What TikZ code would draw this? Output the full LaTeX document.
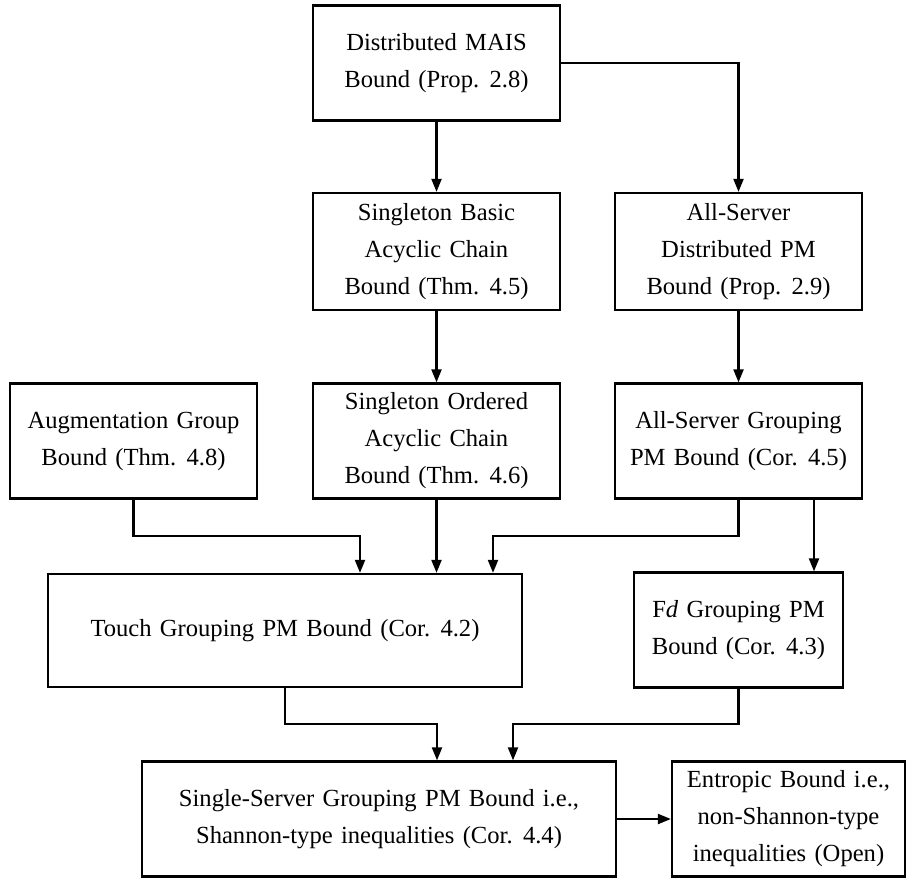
\documentclass[tikz,border=0pt]{standalone}
\usepackage{fontspec}
\setmainfont{Liberation Serif}[WordSpace={1.35}]
\usetikzlibrary{arrows.meta}

\begin{document}
\begin{tikzpicture}[
  x=0.5pt, y=-0.5pt,
  bound/.style={draw, line width=1.15pt, align=center, inner sep=0pt,
    font=\fontsize{12.3pt}{18.5pt}\selectfont,
    minimum width=123.5pt, minimum height=57.5pt},
  arr/.style={line width=1.05pt, -{Triangle[length=6.5pt,width=5pt]}},
]
\useasboundingbox (0,0) rectangle (908,878);

% row 1
\node[bound] (b1) at (436.5,63) {Distributed MAIS\\Bound (Prop. 2.8)};
% row 2
\node[bound, minimum height=58.5pt] (b2) at (436.5,251.5) {Singleton Basic\\Acyclic Chain\\Bound (Thm. 4.5)};
\node[bound, minimum height=58.5pt] (b3) at (738.5,251.5) {All-Server\\Distributed PM\\Bound (Prop. 2.9)};
% row 3
\node[bound] (b4) at (133.5,441) {Augmentation Group\\Bound (Thm. 4.8)};
\node[bound] (b5) at (436.5,441) {Singleton Ordered\\Acyclic Chain\\Bound (Thm. 4.6)};
\node[bound] (b6) at (738.5,441) {All-Server Grouping\\PM Bound (Cor. 4.5)};
% row 4
\node[bound, minimum width=237pt, minimum height=56.5pt] (b7) at (285,630.5) {Touch Grouping PM Bound (Cor. 4.2)};
\node[bound, minimum width=104.5pt] (b8) at (738.5,630) {F\textit{d} Grouping PM\\Bound (Cor. 4.3)};
% row 5
\node[bound, minimum width=237pt] (b9) at (379,819) {Single-Server Grouping PM Bound i.e.,\\Shannon-type inequalities (Cor. 4.4)};
\node[bound, minimum width=116.5pt] (b10) at (788.5,819) {Entropic Bound i.e.,\\non-Shannon-type\\inequalities (Open)};

% bend points of the routed connectors
\coordinate (k1) at (360,536);
\coordinate (k2) at (493,536);
\coordinate (k3) at (814,536);
\coordinate (k4) at (437,724);
\coordinate (k5) at (513,724);

\draw[arr] (b1) -- (b2);
\draw[arr] (b1.east) -| (b3.north);
\draw[arr] (b2) -- (b5);
\draw[arr] (b3) -- (b6);
\draw[arr] (b4.south) |- (k1) -- (k1 |- b7.north);
\draw[arr] (b5.south) -- (b5.south |- b7.north);
\draw[arr] (b6.south) |- (k2) -- (k2 |- b7.north);
\draw[arr] (k3 |- b6.south) -- (k3 |- b8.north);
\draw[arr] (b7.south) |- (k4) -- (k4 |- b9.north);
\draw[arr] (b8.south) |- (k5) -- (k5 |- b9.north);
\draw[arr] (b9.east) -- (b10.west);
\end{tikzpicture}
\end{document}
